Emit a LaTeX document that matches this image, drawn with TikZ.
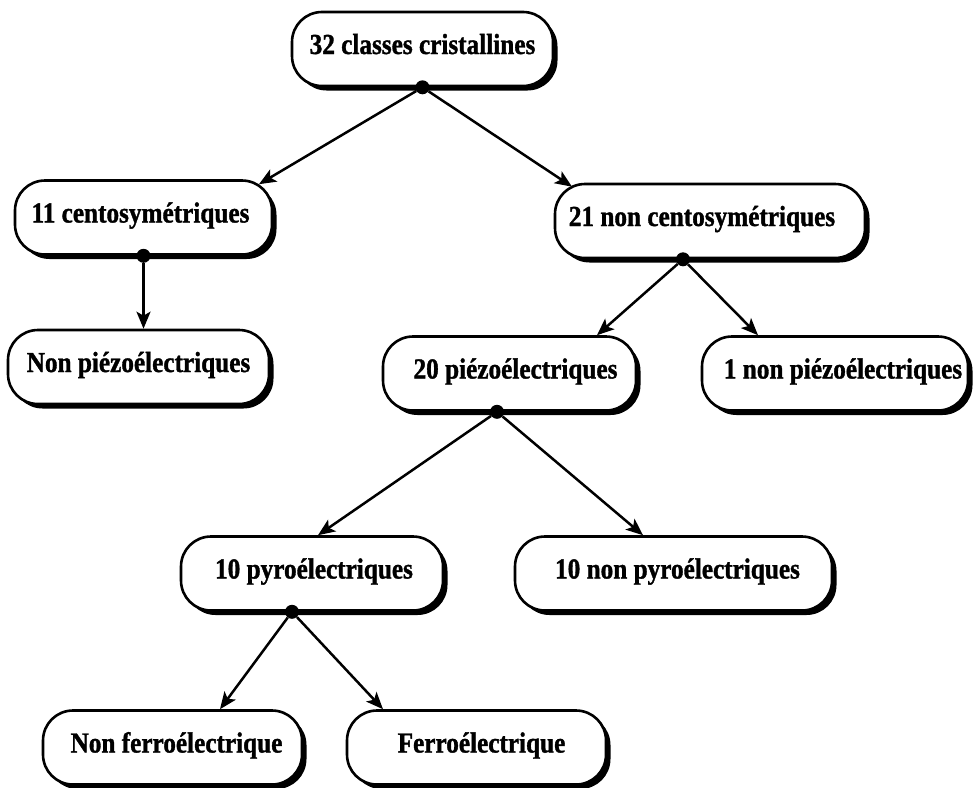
\documentclass[tikz,border=0pt]{standalone}
\usepackage{fontspec}
\newfontfamily\boxfont{Liberation Serif}[FakeStretch=0.87,BoldFeatures={FakeBold=1.2}]
\usetikzlibrary{arrows.meta,shadows}

\begin{document}
\begin{tikzpicture}[x=1pt,y=-1pt,
  stage/.style={draw=black, line width=2.6pt, fill=white, rounded corners=30pt,
    minimum height=74pt, inner sep=0pt, text height=20pt, text depth=10pt,
    font=\boxfont\bfseries\fontsize{29}{32}\selectfont,
    drop shadow={shadow xshift=4.5pt, shadow yshift=-4.5pt, fill=black, opacity=1}},
  nudge/.style={execute at begin node={\hspace*{#1}}},
  link/.style={line width=2.5pt, -{Stealth[length=17pt,width=14pt,inset=4pt]}},
  hub/.style={circle, fill=black, inner sep=0pt, minimum size=14pt}]

\useasboundingbox (0,0) rectangle (973,787);

% classification boxes
\node[stage, minimum width=261pt]            (classes)   at (422.5,49)   {32 classes cristallines};
\node[stage, minimum width=257pt, nudge=-6pt] (centro)    at (143.5,217.5){11 centosymétriques};
\node[stage, minimum width=310pt, nudge=-16pt](noncentro) at (710,221)    {21 non centosymétriques};
\node[stage, minimum width=261pt]            (nonpiezoA) at (138.5,367)  {Non piézoélectriques};
\node[stage, minimum width=253pt, nudge=12pt] (piezo)     at (509.5,373.5){20 piézoélectriques};
\node[stage, minimum width=266pt, nudge=16pt] (nonpiezoB) at (835,373.5)  {1 non piézoélectriques};
\node[stage, minimum width=262pt, nudge=4pt]  (pyro)      at (312,573.5)  {10 pyroélectriques};
\node[stage, minimum width=317pt, nudge=8pt]  (nonpyro)   at (673.5,573.5){10 non pyroélectriques};
\node[stage, minimum width=259pt, nudge=8pt]  (nonferro)  at (172.5,747.5){Non ferroélectrique};
\node[stage, minimum width=259pt, nudge=10pt] (ferro)     at (476.5,747.5){Ferroélectrique};

% branching dots under the parent boxes
\node[hub] (h1) at (classes.south) {};
\node[hub] (h2) at (centro.south) {};
\node[hub] (h3) at ([xshift=-27pt]noncentro.south) {};
\node[hub] (h4) at ([xshift=-12.5pt]piezo.south) {};
\node[hub] (h5) at ([xshift=-20pt]pyro.south) {};

% arrow ends on the child boxes
\coordinate (tB) at ([xshift=115.5pt,yshift=-5pt]centro.north);
\coordinate (tC) at ([xshift=-138pt,yshift=-4pt]noncentro.north);
\coordinate (tD) at (h2 |- nonpiezoA.north);
\coordinate (tE) at ([xshift=87.5pt]piezo.north);
\coordinate (tF) at ([xshift=-77pt]nonpiezoB.north);
\coordinate (tG) at ([xshift=6pt]pyro.north);
\coordinate (tH) at ([xshift=-30.5pt]nonpyro.north);
\coordinate (tI) at ([xshift=47.5pt]nonferro.north);
\coordinate (tJ) at ([xshift=-93.5pt]ferro.north);

\draw[link] (h1) -- (tB);
\draw[link] (h1) -- (tC);
\draw[link] (h2) -- (tD);
\draw[link] (h3) -- (tE);
\draw[link] (h3) -- (tF);
\draw[link] (h4) -- (tG);
\draw[link] (h4) -- (tH);
\draw[link] (h5) -- (tI);
\draw[link] (h5) -- (tJ);
\end{tikzpicture}
\end{document}
